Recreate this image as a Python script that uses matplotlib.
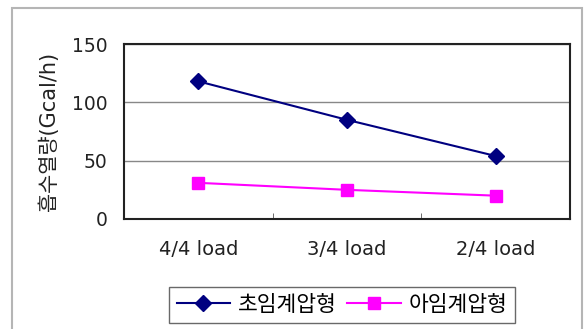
import matplotlib
matplotlib.use("Agg")
import matplotlib.pyplot as plt
from matplotlib.patches import Rectangle

plt.rcParams['font.family'] = ['DejaVu Sans', 'Noto Sans CJK KR']

loads = ['4/4 load', '3/4 load', '2/4 load']
supercritical = [118, 85, 54]   # 초임계압형
subcritical = [31, 25, 20]      # 아임계압형
y_ticks = [0, 50, 100, 150]

fig = plt.figure(figsize=(5.87, 3.29), dpi=100)
ax = fig.add_axes([124 / 587, 110 / 329, 446 / 587, 175 / 329])

x = range(len(loads))
ax.plot(x, supercritical, color='#000080', lw=1.5, marker='D', ms=8,
        label='초임계압형')
ax.plot(x, subcritical, color='#ff00ff', lw=1.5, marker='s', ms=9,
        label='아임계압형')

ax.set_xlim(-0.5, len(loads) - 0.5)
ax.set_ylim(0, 150)
ax.set_yticks(y_ticks)
ax.set_yticklabels([str(v) for v in y_ticks], fontsize=13.5, color='#222222')
ax.set_xticks(list(x))
ax.set_xticklabels(loads, fontsize=14, color='#222222')
ax.tick_params(axis='both', length=0)
ax.tick_params(axis='x', pad=15)
ax.tick_params(axis='y', pad=12)

# category boundary ticks
ax.set_xticks([0.5, 1.5], minor=True)
ax.tick_params(axis='x', which='minor', direction='in', length=4, color='#555555')

ax.grid(axis='y', color='#888888', lw=1)
ax.set_axisbelow(True)
for s in ax.spines.values():
    s.set_color('#222222')
    s.set_linewidth(1.5)

ax.set_ylabel('흡수열량(Gcal/h)', fontsize=15, color='#222222', labelpad=9)

leg = fig.legend(loc='center', bbox_to_anchor=(342 / 587, 1 - 305 / 329),
                 ncol=2, fontsize=15.5, frameon=True, fancybox=False,
                 handlelength=2.5, columnspacing=0.5, handletextpad=0.35,
                 borderpad=0.35, borderaxespad=0)
leg.get_frame().set_edgecolor('#444444')
leg.get_frame().set_linewidth(1)

# outer chart border
fig.patches.append(Rectangle((12 / 587, -0.1), 570 / 587, 1.1 - 8 / 329,
                             transform=fig.transFigure, fill=False,
                             edgecolor='#b5b5b5', lw=1.5))

fig.savefig('out.png', dpi=100)
